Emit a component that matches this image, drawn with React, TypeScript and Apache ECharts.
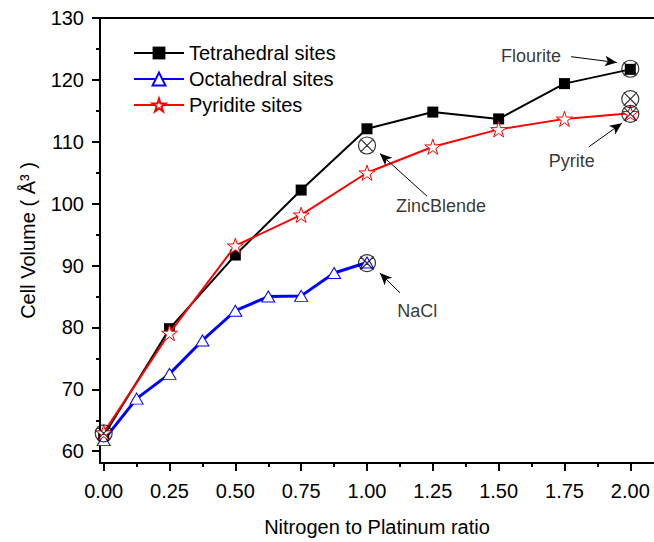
import React, { useEffect, useRef } from "react";
import * as echarts from "echarts";

const tetraX = [0, 0.25, 0.5, 0.75, 1.0, 1.25, 1.5, 1.75, 2.0];
const tetraY = [62.5, 79.8, 91.7, 102.2, 112.1, 114.8, 113.7, 119.4, 121.7];

const octaX = [0, 0.125, 0.25, 0.375, 0.5, 0.625, 0.75, 0.875, 1.0];
const octaY = [61.8, 68.5, 72.5, 77.9, 82.7, 85.0, 85.1, 88.8, 90.5];

const pyrX = [0, 0.25, 0.5, 0.75, 1.0, 1.25, 1.5, 1.75, 2.0];
const pyrY = [63.0, 79.1, 93.2, 98.2, 105.0, 109.2, 112.0, 113.7, 114.6];

const refX = [0, 1.0, 1.0, 2.0, 2.0, 2.0];
const refY = [62.9, 109.4, 90.4, 121.8, 116.9, 114.5];

const xMajorTicks = [0, 0.25, 0.5, 0.75, 1.0, 1.25, 1.5, 1.75, 2.0];
const xMinorTicks = [0.125, 0.375, 0.625, 0.875, 1.125, 1.375, 1.625, 1.875];
const yMajorTicks = [60, 70, 80, 90, 100, 110, 120, 130];
const yMinorTicks = [65, 75, 85, 95, 105, 115, 125];

const annoNames = ["Flourite", "Pyrite", "ZincBlende", "NaCl"];
const annoTextAt = [
  [1.623, 123.9],
  [1.778, 106.9],
  [1.281, 99.7],
  [1.191, 82.7],
];
const annoFrom = [
  [1.775, 123.75],
  [1.843, 109.2],
  [1.228, 101.2],
  [1.125, 85.6],
];
const annoTo = [
  [1.949, 122.8],
  [1.968, 113.0],
  [1.049, 108.1],
  [1.049, 88.8],
];

const FONT = 'Arial, "Liberation Sans", sans-serif';
const STAR =
  "path://M50 0L61.2 34.5L97.6 34.5L68.2 55.9L79.4 90.5L50 69.1L20.6 90.5L31.8 55.9L2.4 34.5L38.8 34.5Z";
const CIRCLEX =
  "path://M10 0A10 10 0 1 1 10 20A10 10 0 1 1 10 0ZM2.2 2.2L17.8 17.8M17.8 2.2L2.2 17.8";

const zip = (xs: number[], ys: number[]) => xs.map((x, i) => [x, ys[i]]);

export default function App() {
  const ref = useRef<HTMLDivElement>(null);
  useEffect(() => {
    if (!ref.current) return;
    const chart = echarts.init(ref.current, null, { renderer: "svg" });
    const xmin = -0.014;
    const xmax = 2.09;
    const ymin = 58.1;
    const ymax = 130;
    const axisLine = { show: true, onZero: false, lineStyle: { color: "#000", width: 2 } };
    const noLine = { show: false, onZero: false };
    chart.setOption({
      animation: false,
      backgroundColor: "#fff",
      textStyle: { fontFamily: FONT },
      grid: { left: 100, right: 0, top: 18, bottom: 75 },
      legend: {
        data: ["Tetrahedral sites", "Octahedral sites", "Pyridite sites"],
        orient: "vertical",
        left: 133,
        top: 42,
        itemWidth: 50,
        itemHeight: 16,
        itemGap: 4,
        padding: 0,
        textStyle: { fontSize: 20, color: "#000", fontFamily: FONT, lineHeight: 22 },
      },
      xAxis: [
        {
          type: "value",
          position: "bottom",
          min: xmin,
          max: xmax,
          axisLine,
          splitLine: { show: false },
          axisTick: {
            show: true,
            customValues: xMajorTicks,
            length: 8,
            lineStyle: { color: "#000", width: 2 },
          },
          axisLabel: {
            show: true,
            customValues: xMajorTicks,
            formatter: (v: number) => v.toFixed(2),
            fontSize: 20,
            color: "#000",
            fontFamily: FONT,
            margin: 18,
          },
          name: "Nitrogen to Platinum ratio",
          nameLocation: "middle",
          nameGap: 54,
          nameTextStyle: { fontSize: 20, color: "#000", fontFamily: FONT },
        },
        {
          type: "value",
          position: "bottom",
          min: xmin,
          max: xmax,
          axisLine: noLine,
          splitLine: { show: false },
          axisTick: {
            show: true,
            customValues: xMinorTicks,
            length: 4,
            lineStyle: { color: "#000", width: 2 },
          },
          axisLabel: { show: false },
        },
        {
          type: "value",
          position: "top",
          min: xmin,
          max: xmax,
          axisLine,
          splitLine: { show: false },
          axisTick: { show: false },
          axisLabel: { show: false },
        },
      ],
      yAxis: [
        {
          type: "value",
          position: "left",
          min: ymin,
          max: ymax,
          axisLine,
          splitLine: { show: false },
          axisTick: {
            show: true,
            customValues: yMajorTicks,
            length: 8,
            lineStyle: { color: "#000", width: 2 },
          },
          axisLabel: {
            show: true,
            customValues: yMajorTicks,
            fontSize: 20,
            color: "#000",
            fontFamily: FONT,
            margin: 16,
          },
          name: "Cell Volume ( Å³ )",
          nameLocation: "middle",
          nameGap: 62,
          nameTextStyle: { fontSize: 20, color: "#000", fontFamily: FONT },
        },
        {
          type: "value",
          position: "left",
          min: ymin,
          max: ymax,
          axisLine: noLine,
          splitLine: { show: false },
          axisTick: {
            show: true,
            customValues: yMinorTicks,
            length: 4,
            lineStyle: { color: "#000", width: 2 },
          },
          axisLabel: { show: false },
        },
      ],
      series: [
        {
          name: "Tetrahedral sites",
          type: "line",
          data: zip(tetraX, tetraY),
          symbol: "rect",
          symbolSize: 11,
          lineStyle: { color: "#000", width: 2 },
          itemStyle: { color: "#000" },
          z: 3,
        },
        {
          name: "Octahedral sites",
          type: "line",
          data: zip(octaX, octaY),
          symbol: "triangle",
          symbolSize: [13, 11],
          showAllSymbol: true,
          lineStyle: { color: "#0000ff", width: 3 },
          itemStyle: { color: "#fff", borderColor: "#0000ff", borderWidth: 1 },
          z: 3,
        },
        {
          name: "Pyridite sites",
          type: "line",
          data: zip(pyrX, pyrY),
          symbol: STAR,
          symbolKeepAspect: true,
          symbolSize: 16,
          lineStyle: { color: "#ff0000", width: 2 },
          itemStyle: { color: "#fff", borderColor: "#ff0000", borderWidth: 1 },
          z: 4,
        },
        {
          name: "ref",
          type: "scatter",
          data: zip(refX, refY),
          symbol: CIRCLEX,
          symbolKeepAspect: true,
          symbolSize: 17,
          itemStyle: { color: "rgba(0,0,0,0)", borderColor: "#000", borderWidth: 1.2 },
          z: 5,
          silent: true,
          markLine: {
            silent: true,
            symbol: ["none", "arrow"],
            symbolSize: [8, 12],
            lineStyle: { color: "#000", width: 1, type: "solid" },
            label: { show: false },
            data: annoFrom.map((f, i) => [{ coord: f }, { coord: annoTo[i] }]),
          },
        },
        {
          name: "annotations",
          type: "scatter",
          data: annoNames.map((n, i) => ({ name: n, value: annoTextAt[i] })),
          symbolSize: 1,
          itemStyle: { color: "rgba(0,0,0,0)" },
          silent: true,
          label: {
            show: true,
            position: "inside",
            formatter: "{b}",
            fontSize: 18,
            color: "#000",
            fontFamily: FONT,
          },
          z: 6,
        },
      ],
    });
    return () => chart.dispose();
  }, []);
  return (
    <div
      ref={ref}
      style={{ position: "absolute", left: 0, top: 0, width: 654, height: 542 }}
    />
  );
}
